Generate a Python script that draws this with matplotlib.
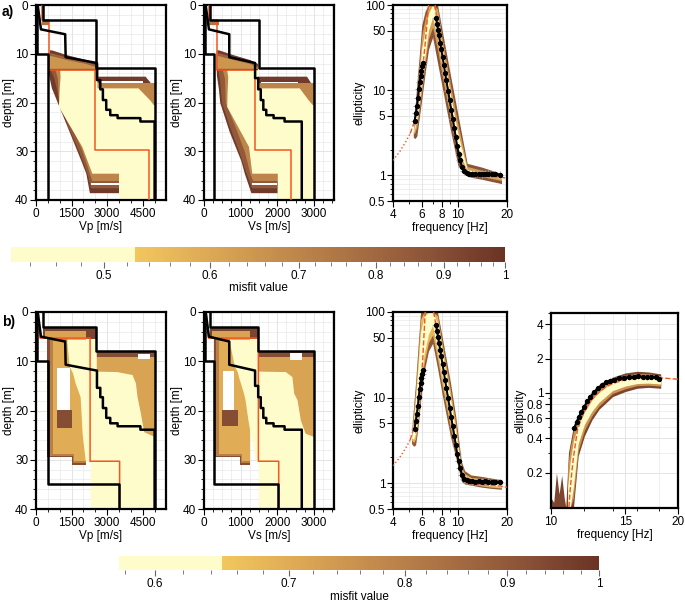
import matplotlib
matplotlib.use('Agg')
import matplotlib as mpl
import matplotlib.pyplot as plt
from matplotlib.colors import LinearSegmentedColormap, LogNorm
from matplotlib.ticker import MultipleLocator, NullFormatter

plt.rcParams['font.family'] = ['Liberation Sans', 'DejaVu Sans']
plt.rcParams['font.size'] = 8.5

# ---------------- misfit colour scales ----------------
cbar_a_range = (0.4256, 1.0)
cbar_a_thresh = 0.526
cbar_a_ticks = [0.5, 0.6, 0.7, 0.8, 0.9, 1.0]
cbar_a_labels = ['0.5', '0.6', '0.7', '0.8', '0.9', '1']
cbar_b_range = (0.576, 1.0)
cbar_b_thresh = 0.648
cbar_b_ticks = [0.6, 0.7, 0.8, 0.9, 1.0]
cbar_b_labels = ['0.6', '0.7', '0.8', '0.9', '1']

# ---------------- depth profiles (depth [m], velocity [m/s]) ----------------
# reference model (same in a and b)
vp_true_d = [0, 5, 6, 10.7, 11.9, 15.4, 15.4, 17.3, 17.3, 19.5, 19.5, 21.5, 21.5, 22.6, 22.6, 23.2, 23.2, 23.9, 23.9, 40]
vp_true_v = [70, 210, 1230, 1250, 2570, 2570, 2710, 2710, 2820, 2820, 2960, 2960, 3130, 3130, 3440, 3440, 4400, 4400, 5000, 5000]
vs_true_d = [0, 5, 6, 10.7, 11.9, 15.0, 15.0, 17.3, 17.3, 19.5, 19.5, 21.5, 21.5, 22.6, 22.6, 23.2, 23.2, 23.9, 23.9, 40]
vs_true_v = [45, 135, 690, 690, 1395, 1395, 1480, 1480, 1550, 1550, 1620, 1620, 1700, 1700, 1900, 1900, 2200, 2200, 2670, 2670]

# search limits
vp_a_lower = ([0, 10, 10, 40], [30, 30, 500, 500])
vp_a_upper = ([0, 3, 3, 13, 13, 40], [280, 280, 2525, 2525, 5000, 5000])
vs_a_lower = ([0, 10, 10, 40], [15, 15, 270, 270])
vs_a_upper = ([0, 3, 3, 13, 13, 40], [170, 170, 1500, 1500, 3000, 3000])
vp_b_lower = ([0, 10, 10, 35, 35, 40], [30, 30, 500, 500, 3510, 3510])
vp_b_upper = ([0, 3, 3, 8, 8, 40], [280, 280, 2540, 2540, 5000, 5000])
vs_b_lower = ([0, 10, 10, 35, 35, 40], [15, 15, 270, 270, 2025, 2025])
vs_b_upper = ([0, 3, 3, 8, 8, 40], [170, 170, 1485, 1485, 3000, 3000])

# best (minimum misfit) models
vp_a_best = ([0, 3, 3, 13.3, 13.3, 29.8, 29.8, 40], [240, 240, 560, 560, 2500, 2500, 4780, 4780])
vs_a_best = ([0, 3, 3, 13.3, 13.3, 29.8, 29.8, 40], [150, 150, 360, 360, 1395, 1395, 2385, 2385])
vp_b_best = ([0, 5.3, 5.3, 30.3, 30.3, 40], [100, 170, 2280, 2280, 3525, 3525])
vs_b_best = ([0, 5.3, 5.3, 30.3, 30.3, 40], [60, 120, 1485, 1485, 2040, 2040])

# model ensembles: (misfit, depth, v_min, v_max)
vp_a_bands = [
    (0.75, [3.0, 4.2], [250, 250], [560, 560]),
    (0.97, [9.2, 10.2, 11.2, 12.0, 13.3], [560] * 5, [650, 1300, 2100, 2600, 2600]),
    (0.82, [9.8, 10.7, 11.6, 12.4, 13.3], [560] * 5, [650, 1300, 2100, 2600, 2600]),
    (0.65, [10.4, 11.2, 12.0, 12.8, 13.3], [560] * 5, [650, 1300, 2100, 2600, 2600]),
    (0.97, [13.0, 14.5, 17, 20, 23, 26, 29, 32, 34.5, 38.5],
     [520, 540, 650, 900, 1150, 1400, 1650, 1900, 2100, 2250],
     [2600, 2600, 2600, 2600, 3000, 3480, 3480, 3480, 3480, 3480]),
    (0.85, [13.3, 15, 20, 25, 30, 34.5, 37.5], [600, 750, 1000, 1350, 1800, 2150, 2300],
     [2600, 2600, 2600, 3480, 3480, 3480, 3480]),
    (0.7, [13.3, 15, 20, 25, 30, 34.5, 36.0], [800, 900, 950, 1500, 1950, 2250, 2350],
     [2600, 2600, 2600, 3480, 3480, 3480, 3480]),
    (0.97, [14.6, 17.0], [2570, 2570], [4600, 5000]),
    (0.7, [16.0, 20.5], [2570, 2570], [5000, 5000]),
    (0.46, [13.3, 14.7, 17, 17, 18, 19.5, 20.8, 29, 34.5, 34.5, 40],
     [1000, 1015, 980, 980, 970, 960, 945, 1930, 2355, 3480, 3480],
     [2570, 2570, 2570, 4300, 4500, 4800, 5000, 5000, 5000, 5000, 5000]),
]
vp_a_gaps = [([15.6, 15.9], [2700, 2700], [4500, 4500]), ([36.6, 36.9], [2300, 2300], [3480, 3480])]

vs_a_bands = [
    (0.75, [3.0, 4.2], [130, 130], [400, 400]),
    (0.97, [9.2, 10.2, 11.2, 12.0, 13.3], [333] * 5, [400, 800, 1250, 1460, 1460]),
    (0.82, [9.8, 10.7, 11.6, 12.4, 13.3], [333] * 5, [400, 800, 1250, 1460, 1460]),
    (0.65, [10.4, 11.2, 12.0, 12.8, 13.3], [333] * 5, [400, 800, 1250, 1460, 1460]),
    (0.97, [13.0, 14.5, 17, 20, 23, 26, 29, 32, 34.5, 38.5],
     [333, 340, 390, 430, 560, 690, 850, 1010, 1100, 1280],
     [1460, 1460, 1460, 1460, 1800, 2000, 2000, 2000, 2000, 2000]),
    (0.85, [13.3, 15, 20, 25, 30, 34.5, 37.5], [380, 420, 480, 700, 950, 1150, 1300],
     [1460, 1460, 1460, 2000, 2000, 2000, 2000]),
    (0.7, [13.3, 15, 20, 25, 30, 34.5, 36.0], [500, 560, 580, 850, 1100, 1250, 1330],
     [1460, 1460, 1460, 2000, 2000, 2000, 2000]),
    (0.97, [14.6, 17.0], [1460, 1460], [2800, 3000]),
    (0.7, [16.0, 20.5], [1460, 1460], [3000, 3000]),
    (0.46, [13.3, 14.7, 17, 17, 18, 19.5, 20.8, 29, 34.5, 34.5, 40],
     [620, 648, 635, 635, 630, 625, 621, 1215, 1305, 2000, 2000],
     [1460, 1460, 1460, 2600, 2700, 2850, 3000, 3000, 3000, 3000, 3000]),
]
vs_a_gaps = [([15.8, 16.1], [1550, 1550], [2580, 2580]), ([36.6, 36.9], [1300, 1300], [2000, 2000])]

vp_b_bands = [
    (0.95, [3, 5.5], [280, 280], [2540, 2540]),
    (0.72, [3.8, 5.5], [380, 380], [2100, 2100]),
    (0.93, [5.5, 29.5, 29.5, 31.0], [450, 450, 1500, 1500], [2100] * 4),
    (0.8, [5.5, 29.2, 29.2, 30.7], [580, 580, 1550, 1550], [2100] * 4),
    (0.7, [5.8, 28.8, 28.8, 30.3], [700, 700, 1600, 1600], [2100] * 4),
    (0.93, [19.9, 23.5], [875, 875], [1510, 1510]),
    (0.93, [8, 9.6], [2540, 2540], [5000, 5000]),
    (0.72, [9.2, 26], [2540, 2540], [5000, 5000]),
    (0.58, [5.5, 6, 11, 12, 12.1, 12.7, 14.4, 17.2, 20.5, 24.3, 25.3, 30, 30.7, 40],
     [1300, 1300, 1400, 1500, 1520, 1560, 1650, 1860, 1900, 1940, 1960, 2070, 2285, 2285],
     [2540, 2540, 2540, 2540, 3410, 4050, 4190, 4260, 4400, 4540, 5000, 5000, 5000, 5000]),
]
vp_b_gaps = [([11.4, 19.9], [875, 875], [1440, 1440]), ([8.5, 9.5], [4300, 4300], [4800, 4800])]

vs_b_bands = [
    (0.95, [3, 5.5], [170, 170], [1485, 1485]),
    (0.72, [3.8, 5.5], [230, 230], [1250, 1250]),
    (0.93, [5.5, 29.5, 29.5, 31.0], [270, 270, 981, 981], [1250] * 4),
    (0.8, [5.5, 29.2, 29.2, 30.7], [340, 340, 1000, 1000], [1250] * 4),
    (0.7, [5.8, 28.8, 28.8, 30.3], [400, 400, 1030, 1030], [1250] * 4),
    (0.93, [19.9, 23.2], [495, 495], [918, 918]),
    (0.93, [8, 9.6], [1485, 1485], [3000, 3000]),
    (0.72, [9.2, 26], [1485, 1485], [3000, 3000]),
    (0.58, [5.5, 6, 11, 12, 12.1, 13.1, 16.5, 17.8, 21.9, 24.6, 25.3, 30, 30.5, 40],
     [693, 693, 828, 900, 910, 940, 1080, 1120, 1200, 1260, 1280, 1395, 1485, 1485],
     [1485, 1485, 1485, 1485, 2220, 2400, 2450, 2540, 2630, 2760, 3000, 3000, 3000, 3000]),
]
vs_b_gaps = [([11.9, 19.9], [513, 513], [828, 828]), ([8.3, 9.8], [2360, 2360], [2670, 2670])]

# ---------------- ellipticity curves ----------------
obs_f = [5.42, 5.52, 5.6, 5.68, 5.75, 5.82, 5.9, 5.98, 6.06, 6.14,
         7.35, 7.45, 7.55, 7.65, 7.78, 7.9, 8.05, 8.2, 8.35, 8.5, 8.7, 8.9, 9.1, 9.3, 9.5,
         9.7, 9.9, 10.1, 10.3, 10.6, 10.9, 11.3, 11.7, 12.2, 12.8, 13.4, 14.0, 14.7, 15.4,
         16.2, 17.0, 18.0]
obs_ell = [4.3, 5.4, 6.5, 8.0, 10.3, 12.5, 14.7, 17.0, 19.0, 21.0,
           70, 59.8, 51.3, 44, 36.2, 30.3, 24.4, 19.7, 15.9, 13.0, 9.9, 7.6, 5.9, 4.6, 3.6,
           2.8, 2.2, 1.8, 1.5, 1.25, 1.12, 1.08, 1.05, 1.05, 1.04, 1.05, 1.04, 1.05, 1.04,
           1.03, 1.03, 1.02]
n_left = 10

obs2_f = [11.35, 11.5, 11.65, 11.8, 12.0, 12.2, 12.4, 12.65, 12.9, 13.2, 13.5, 13.8, 14.1,
          14.5, 14.9, 15.3, 15.7, 16.1, 16.5, 16.9, 17.3, 17.7, 18.0]
obs2_ell = [0.49, 0.56, 0.62, 0.68, 0.76, 0.85, 0.93, 1.02, 1.1, 1.18, 1.24, 1.28, 1.31,
            1.34, 1.36, 1.38, 1.39, 1.40, 1.39, 1.38, 1.39, 1.38, 1.33]
err_rel_1 = (0.05, 0.1)    # relative frequency / ellipticity errors, peak curve
err_rel_2 = (0.015, 0.05)  # relative errors, second curve

ell_a_f = [5.33, 5.45, 5.6, 5.8, 6.0, 6.3, 6.6, 7.0, 7.5, 8.0, 9.0, 10.0, 11.4, 12, 14, 16, 18.5]
ell_a_bands = [
    (0.88, [2.8, 2.7, 2.9, 4.8, 7.7, 16, 30, 42, 21, 11, 3.4, 1.3, 1.0, 0.95, 0.9, 0.85, 0.8],
     [3.2, 6, 12, 26, 58, 85, 100, 100, 100, 51, 15, 5.2, 1.38, 1.35, 1.25, 1.15, 1.05]),
    (0.62, [3.05, 3.2, 3.7, 5.9, 9.8, 21, 40, 55, 30, 15, 4.6, 1.65, 1.08, 1.02, 0.97, 0.92, 0.87],
     [3.1, 5.2, 9.8, 20, 44, 70, 98, 100, 90, 40, 11.5, 4.0, 1.27, 1.24, 1.15, 1.08, 0.98]),
    (0.48, [3.1, 3.6, 4.6, 7.2, 12.5, 26, 50, 72, 40, 19, 5.9, 2.0, 1.14, 1.08, 1.03, 0.97, 0.92],
     [3.1, 4.4, 7.6, 14.5, 31, 52, 80, 100, 70, 31, 8.8, 3.1, 1.17, 1.15, 1.07, 1.01, 0.94]),
]
best_a_left = ([4.0, 4.4, 4.8, 5.1, 5.4, 5.7, 6.0, 6.3, 6.6], [1.5, 1.9, 2.5, 3.1, 4.2, 7.0, 14, 35, 100])
best_a_right = ([7.25, 7.5, 8.0, 8.5, 9.0, 9.5, 10.0, 10.5, 11.0, 12.0, 14.0, 16.0, 18.0, 20.0],
                [100, 55, 26, 13, 6.7, 3.6, 1.9, 1.3, 1.1, 1.02, 1.0, 0.97, 0.95, 0.93])

ell_b1_f = [5.2, 5.35, 5.5, 5.7, 5.9, 6.2, 6.6, 7.0, 7.5, 8.0, 9.0, 9.7, 10.5, 11.0, 12.0, 14.0, 16.0, 18.5]
ell_b1_bands = [
    (0.9, [2.9, 2.7, 2.8, 4.5, 9.0, 20, 35, 43, 22, 11, 3.5, 2.0, 1.05, 0.98, 0.95, 0.9, 0.87, 0.85],
     [4.0, 8.0, 15, 40, 100, 100, 100, 100, 100, 52, 15, 6.0, 1.8, 1.4, 1.25, 1.2, 1.15, 1.1]),
    (0.68, [3.2, 3.0, 3.3, 5.3, 11.5, 25, 44, 54, 28, 14, 4.4, 2.45, 1.12, 1.02, 0.98, 0.93, 0.9, 0.88],
     [3.5, 6.6, 12, 31, 82, 100, 100, 100, 90, 43, 12, 4.9, 1.55, 1.3, 1.17, 1.13, 1.09, 1.04]),
    (0.6, [3.35, 3.3, 3.8, 6.4, 15, 32, 55, 70, 36, 18, 5.5, 3.0, 1.22, 1.07, 1.02, 0.97, 0.94, 0.92],
     [3.35, 5.2, 9.6, 23, 58, 88, 100, 100, 74, 34, 9.7, 4.0, 1.35, 1.2, 1.1, 1.06, 1.03, 0.98]),
]
best_b1_left = ([4.0, 4.4, 4.8, 5.1, 5.45, 5.7, 5.9, 6.1, 6.3], [1.6, 2.0, 2.6, 3.2, 5.0, 7.5, 12, 30, 100])
best_b1_right = ([7.1, 7.5, 8.0, 8.5, 9.0, 9.5, 10.0, 10.5, 11.0, 12.0, 14.0, 16.0, 18.0, 20.0],
                 [100, 55, 26, 13, 6.7, 3.6, 1.9, 1.3, 1.05, 0.98, 0.96, 0.95, 0.93, 0.9])

ell_b2_f_out = [10.0, 10.15, 10.3, 10.45, 10.6, 10.75, 10.84, 11.0, 11.3, 11.6, 12.0, 12.5, 13.0,
                14.0, 15.0, 16.0, 17.0, 18.2]
ell_b2_out = (0.95,
              [0.098] * 9 + [0.28, 0.42, 0.58, 0.72, 0.93, 1.03, 1.1, 1.12, 1.1],
              [0.12, 0.11, 0.2, 0.13, 0.19, 0.12, 0.1, 0.3, 0.51, 0.64, 0.82, 1.0, 1.15, 1.38, 1.5,
               1.55, 1.53, 1.47])
ell_b2_f_in = [10.95, 11.1, 11.3, 11.6, 12.0, 12.5, 13.0, 14.0, 15.0, 16.0, 17.0, 18.2]
ell_b2_in = [
    (0.75, [0.098, 0.098, 0.12, 0.31, 0.47, 0.63, 0.77, 0.99, 1.09, 1.16, 1.17, 1.15],
     [0.22, 0.33, 0.46, 0.58, 0.75, 0.93, 1.08, 1.3, 1.43, 1.48, 1.47, 1.42]),
    (0.6, [0.098, 0.098, 0.15, 0.36, 0.53, 0.69, 0.83, 1.05, 1.15, 1.21, 1.22, 1.2],
     [0.15, 0.25, 0.38, 0.52, 0.68, 0.87, 1.02, 1.25, 1.38, 1.44, 1.43, 1.38]),
]
best_b2 = ([11.03, 11.1, 11.2, 11.3, 11.4, 11.55, 11.8, 12.1, 12.5, 13.0, 13.5, 14, 15, 16, 17, 18, 19, 20],
           [0.1, 0.14, 0.2, 0.27, 0.34, 0.47, 0.6, 0.74, 0.88, 1.02, 1.13, 1.21, 1.31, 1.36, 1.37, 1.36,
            1.34, 1.32])

# ---------------- styling ----------------
PALE = '#FFFCCC'
BROWNS = ['#F2C75E', '#DDA955', '#C38B4C', '#A86F43', '#8B5337', '#6A3325']
ORANGE = '#F5551E'
GRID = '#E4E4E4'
W, H = 685, 604


def make_cmap(rng, thr):
    norm = LogNorm(rng[0], rng[1])
    t = float(norm(thr))
    stops = [(0.0, PALE), (t, PALE)]
    for i, c in enumerate(BROWNS):
        stops.append((t + 0.002 + (1 - t - 0.002) * i / (len(BROWNS) - 1), c))
    return LinearSegmentedColormap.from_list('misfit', stops), norm


def add_ax(fig, l, t, r, b):
    return fig.add_axes([l / W, 1 - b / H, (r - l) / W, (b - t) / H])


def style_ax(ax):
    for s in ax.spines.values():
        s.set_linewidth(1.6)
    ax.tick_params(which='major', direction='out', length=4, width=0.8, pad=1.5, top=False, right=False)
    ax.tick_params(which='minor', direction='out', length=2.5, width=0.6, top=False, right=False)
    ax.grid(True, which='major', color=GRID, lw=0.7)
    ax.grid(True, which='minor', color=GRID, lw=0.4)
    ax.set_axisbelow(True)


def depth_panel(ax, bands, gaps, lower, upper, best, true_d, true_v, xmax, xticks, xminor, xlabel,
                cmap, norm):
    for m, d, v0, v1 in bands:
        ax.fill_betweenx(d, v0, v1, color=cmap(norm(m)), lw=0)
    for d, v0, v1 in gaps:
        ax.fill_betweenx(d, v0, v1, color='white', lw=0)
    ax.plot(best[1], best[0], color=ORANGE, lw=1.1, zorder=3)
    ax.plot(lower[1], lower[0], color='k', lw=1.8, zorder=4)
    ax.plot(upper[1], upper[0], color='k', lw=1.8, zorder=4)
    ax.plot(true_v, true_d, color='k', lw=1.8, zorder=4)
    ax.set_xlim(0, xmax)
    ax.set_ylim(40, 0)
    ax.set_xticks(xticks)
    ax.xaxis.set_minor_locator(MultipleLocator(xminor))
    ax.set_yticks([0, 10, 20, 30, 40])
    ax.yaxis.set_minor_locator(MultipleLocator(2))
    ax.set_xlabel(xlabel, labelpad=1)
    ax.set_ylabel('depth [m]', labelpad=0)
    style_ax(ax)


def ell_panel(ax, band_list, best_parts, cmap, norm):
    for f, (m, lo, hi) in band_list:
        ax.fill_between(f, lo, hi, color=cmap(norm(m)), lw=0)
    for f, e, ls in best_parts:
        ax.plot(f, e, color=ORANGE, lw=1.0, ls=ls, zorder=3)
    ax.set_xscale('log')
    ax.set_yscale('log')
    ax.xaxis.set_minor_formatter(NullFormatter())
    ax.yaxis.set_minor_formatter(NullFormatter())
    ax.set_xlabel('frequency [Hz]', labelpad=1)
    ax.set_ylabel('ellipticity', labelpad=0)
    style_ax(ax)


def observations(ax, f, e, splits, err_rel):
    xerr = [v * err_rel[0] for v in f]
    yerr = [v * err_rel[1] for v in e]
    ax.errorbar(f, e, xerr=xerr, yerr=yerr, fmt='none', ecolor='#A8A8A8', elinewidth=0.8, zorder=4)
    for a, b in splits:
        ax.plot(f[a:b], e[a:b], color='k', lw=1.4, marker='o', ms=2.8, zorder=5)


def colorbar(fig, l, t, r, b, cmap, norm, ticks, labels, label_xy):
    cax = add_ax(fig, l, t, r, b)
    cb = mpl.colorbar.ColorbarBase(cax, cmap=cmap, norm=norm, orientation='horizontal')
    cb.outline.set_visible(False)
    cb.set_ticks(ticks, labels=labels)
    cax.xaxis.set_minor_locator(MultipleLocator(0.02))
    cax.xaxis.set_minor_formatter(NullFormatter())
    cax.tick_params(which='major', length=4, width=0.8, color='#666666', pad=2)
    cax.tick_params(which='minor', length=3, width=0.6, color='#666666')
    fig.text(label_xy[0] / W, 1 - label_xy[1] / H, 'misfit value', ha='center', va='center')


fig = plt.figure(figsize=(6.85, 6.04), dpi=100)
cmap_a, norm_a = make_cmap(cbar_a_range, cbar_a_thresh)
cmap_b, norm_b = make_cmap(cbar_b_range, cbar_b_thresh)

# ---- row a ----
ax = add_ax(fig, 36, 5, 166, 200)
depth_panel(ax, vp_a_bands, vp_a_gaps, vp_a_lower, vp_a_upper, vp_a_best, vp_true_d, vp_true_v,
            5480, [0, 1500, 3000, 4500], 500, 'Vp [m/s]', cmap_a, norm_a)
ax = add_ax(fig, 204, 5, 334, 200)
depth_panel(ax, vs_a_bands, vs_a_gaps, vs_a_lower, vs_a_upper, vs_a_best, vs_true_d, vs_true_v,
            3550, [0, 1000, 2000, 3000], 250, 'Vs [m/s]', cmap_a, norm_a)

ax = add_ax(fig, 393, 5, 507, 201)
ell_panel(ax, [(ell_a_f, b) for b in ell_a_bands],
          [(best_a_left[0][:4], best_a_left[1][:4], ':'), (best_a_left[0][3:], best_a_left[1][3:], '--'),
           (best_a_right[0], best_a_right[1], '--')], cmap_a, norm_a)
observations(ax, obs_f, obs_ell, [(0, n_left), (n_left, len(obs_f))], err_rel_1)
ax.set_xlim(4, 20)
ax.set_ylim(0.5, 100)
ax.set_xticks([4, 6, 8, 10, 20], labels=['4', '6', '8', '10', '20'])
ax.set_yticks([0.5, 1, 5, 10, 50, 100], labels=['0.5', '1', '5', '10', '50', '100'])

colorbar(fig, 11, 247, 505, 262, cmap_a, norm_a, cbar_a_ticks, cbar_a_labels, (258, 288))

# ---- row b ----
ax = add_ax(fig, 36, 312, 166, 509)
depth_panel(ax, vp_b_bands, vp_b_gaps, vp_b_lower, vp_b_upper, vp_b_best, vp_true_d, vp_true_v,
            5480, [0, 1500, 3000, 4500], 500, 'Vp [m/s]', cmap_b, norm_b)
ax = add_ax(fig, 204, 312, 334, 509)
depth_panel(ax, vs_b_bands, vs_b_gaps, vs_b_lower, vs_b_upper, vs_b_best, vs_true_d, vs_true_v,
            3550, [0, 1000, 2000, 3000], 250, 'Vs [m/s]', cmap_b, norm_b)

ax = add_ax(fig, 393, 312, 507, 509)
ell_panel(ax, [(ell_b1_f, b) for b in ell_b1_bands],
          [(best_b1_left[0][:4], best_b1_left[1][:4], ':'), (best_b1_left[0][3:], best_b1_left[1][3:], '--'),
           (best_b1_right[0], best_b1_right[1], '--')], cmap_b, norm_b)
observations(ax, obs_f, obs_ell, [(0, n_left), (n_left, len(obs_f))], err_rel_1)
ax.set_xlim(4, 20)
ax.set_ylim(0.5, 100)
ax.set_xticks([4, 6, 8, 10, 20], labels=['4', '6', '8', '10', '20'])
ax.set_yticks([0.5, 1, 5, 10, 50, 100], labels=['0.5', '1', '5', '10', '50', '100'])

ax = add_ax(fig, 551, 313, 678, 508)
ell_panel(ax, [(ell_b2_f_out, ell_b2_out)] + [(ell_b2_f_in, b) for b in ell_b2_in],
          [(best_b2[0], best_b2[1], '--')], cmap_b, norm_b)
observations(ax, obs2_f, obs2_ell, [(0, len(obs2_f))], err_rel_2)
ax.set_xlim(10, 20)
ax.set_ylim(0.098, 5.03)
ax.set_xticks([10, 15, 20], labels=['10', '15', '20'])
ax.set_yticks([0.2, 0.4, 0.6, 0.8, 1, 2, 4], labels=['0.2', '0.4', '0.6', '0.8', '1', '2', '4'])

colorbar(fig, 119, 556, 599, 570, cmap_b, norm_b, cbar_b_ticks, cbar_b_labels, (359, 597))

fig.text(2 / W, 1 - 12 / H, 'a)', fontsize=10, fontweight='bold', va='center')
fig.text(2 / W, 1 - 322 / H, 'b)', fontsize=10, fontweight='bold', va='center')

fig.savefig('out.png', dpi=100)
